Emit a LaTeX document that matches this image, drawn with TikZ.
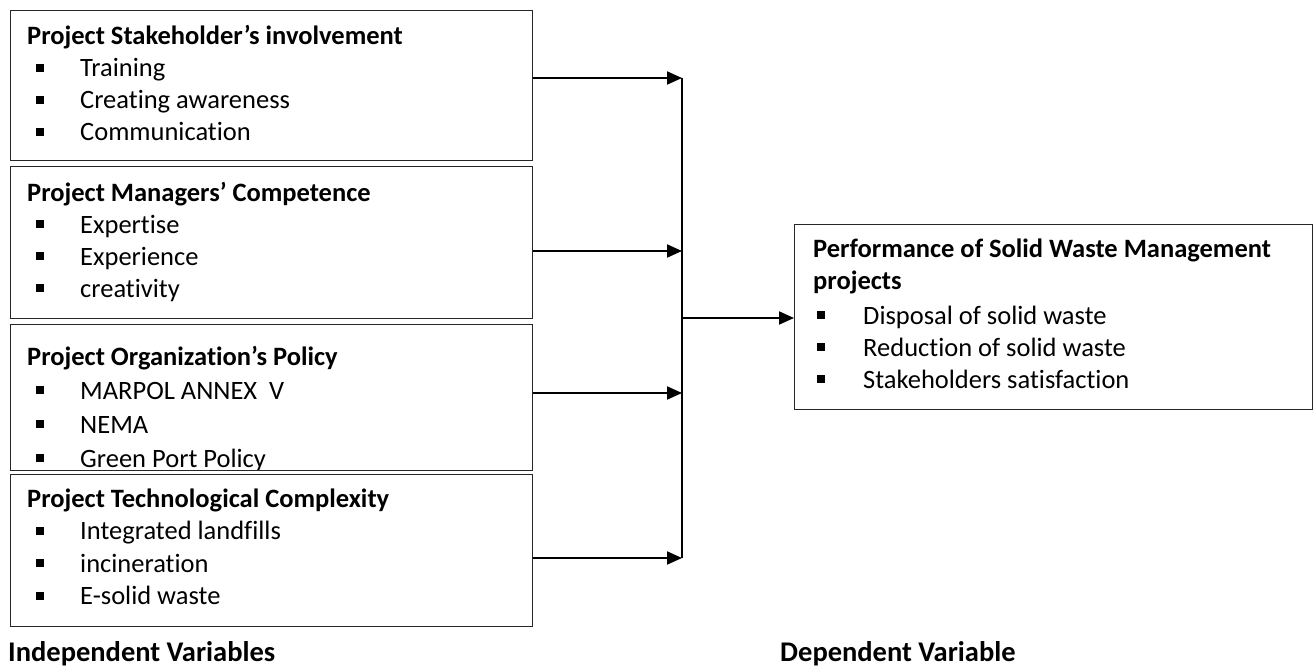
\documentclass[tikz,border=0pt]{standalone}
\usepackage{fontspec}
\setmainfont{Carlito}[Ligatures=NoCommon]
\usetikzlibrary{arrows.meta}
\tikzset{
  varbox/.style={draw=black!85, line width=1.2pt, fill=white, rectangle, inner sep=0pt, anchor=north west},
  ttl/.style={anchor=base west, inner sep=0pt, font=\fontsize{26.5}{32}\selectfont\bfseries},
  itm/.style={anchor=base west, inner sep=0pt, font=\fontsize{26.5}{32}\selectfont},
  lbl/.style={anchor=base west, inner sep=0pt, font=\fontsize{28.5}{34}\selectfont\bfseries},
  bul/.style={anchor=base west, inner sep=0pt},
  conn/.style={line width=2pt, -{Triangle[length=15pt,width=13pt]}},
  bar/.style={line width=2pt},
}
\newcommand{\sq}{\rule[5pt]{8pt}{8pt}}
\begin{document}
\begin{tikzpicture}[x=1pt,y=-1pt]
\useasboundingbox (0,0) rectangle (1314,666);
% boxes
\node[varbox, minimum width=522pt, minimum height=150pt] (b1) at (10,10) {};
\node[varbox, minimum width=522pt, minimum height=152pt] (b2) at (10,166) {};
\node[varbox, minimum width=522pt, minimum height=146pt] (b3) at (10,324) {};
\node[varbox, minimum width=522pt, minimum height=152pt] (b4) at (10,474) {};
\node[varbox, minimum width=518pt, minimum height=185pt] (bR) at (794,224) {};
% box 1
\node[ttl] (t1) at (27,45) {Project Stakeholder’s involvement};
\node[bul] (s11) at (36,77) {\sq}; \node[itm] (i11) at (80,77) {Training};
\node[bul] (s12) at (36,109) {\sq}; \node[itm] (i12) at (80,109) {Creating awareness};
\node[bul] (s13) at (36,141) {\sq}; \node[itm] (i13) at (80,141) {Communication};
% box 2
\node[ttl] (t2) at (27,201) {Project Managers’ Competence};
\node[bul] (s21) at (36,233) {\sq}; \node[itm] (i21) at (80,233) {Expertise};
\node[bul] (s22) at (36,265) {\sq}; \node[itm] (i22) at (80,265) {Experience};
\node[bul] (s23) at (36,297) {\sq}; \node[itm] (i23) at (80,297) {creativity};
% box 3 (text clipped by box)
\begin{scope}
\clip (10,324) rectangle (532,469);
\node[ttl] (t3) at (27,365) {Project Organization’s Policy};
\node[bul] (s31) at (36,399) {\sq}; \node[itm] (i31) at (80,399) {MARPOL ANNEX\ \ V};
\node[bul] (s32) at (36,433) {\sq}; \node[itm] (i32) at (80,433) {NEMA};
\node[bul] (s33) at (36,467) {\sq}; \node[itm] (i33) at (80,467) {Green Port Policy};
\end{scope}
% box 4
\node[ttl] (t4) at (27,507) {Project Technological Complexity};
\node[bul] (s41) at (36,539.5) {\sq}; \node[itm] (i41) at (80,539.5) {Integrated landfills};
\node[bul] (s42) at (36,572) {\sq}; \node[itm] (i42) at (80,572) {incineration};
\node[bul] (s43) at (36,604.5) {\sq}; \node[itm] (i43) at (80,604.5) {E-solid waste};
% right box
\node[ttl] (tR1) at (813,257) {Performance of Solid Waste Management};
\node[ttl] (tR2) at (813,289) {projects};
\node[bul] (sR1) at (817,324) {\sq}; \node[itm] (iR1) at (863,324) {Disposal of solid waste};
\node[bul] (sR2) at (817,356) {\sq}; \node[itm] (iR2) at (863,356) {Reduction of solid waste};
\node[bul] (sR3) at (817,388) {\sq}; \node[itm] (iR3) at (863,388) {Stakeholders satisfaction};
% labels
\node[lbl] (lI) at (8,661) {Independent Variables};
\node[lbl] (lD) at (780,661) {Dependent Variable};
% connectors
\coordinate (j1) at (682,78);
\coordinate (j2) at (682,251);
\coordinate (j3) at (682,393);
\coordinate (j4) at (682,558);
\coordinate (jo) at (682,318);
\draw[conn] (b1.east |- j1) -- (j1);
\draw[conn] (b2.east |- j2) -- (j2);
\draw[conn] (b3.east |- j3) -- (j3);
\draw[conn] (b4.east |- j4) -- (j4);
\draw[bar] (j1) -- (j4);
\draw[conn] (jo) -- (bR.west |- jo);
\end{tikzpicture}
\end{document}
